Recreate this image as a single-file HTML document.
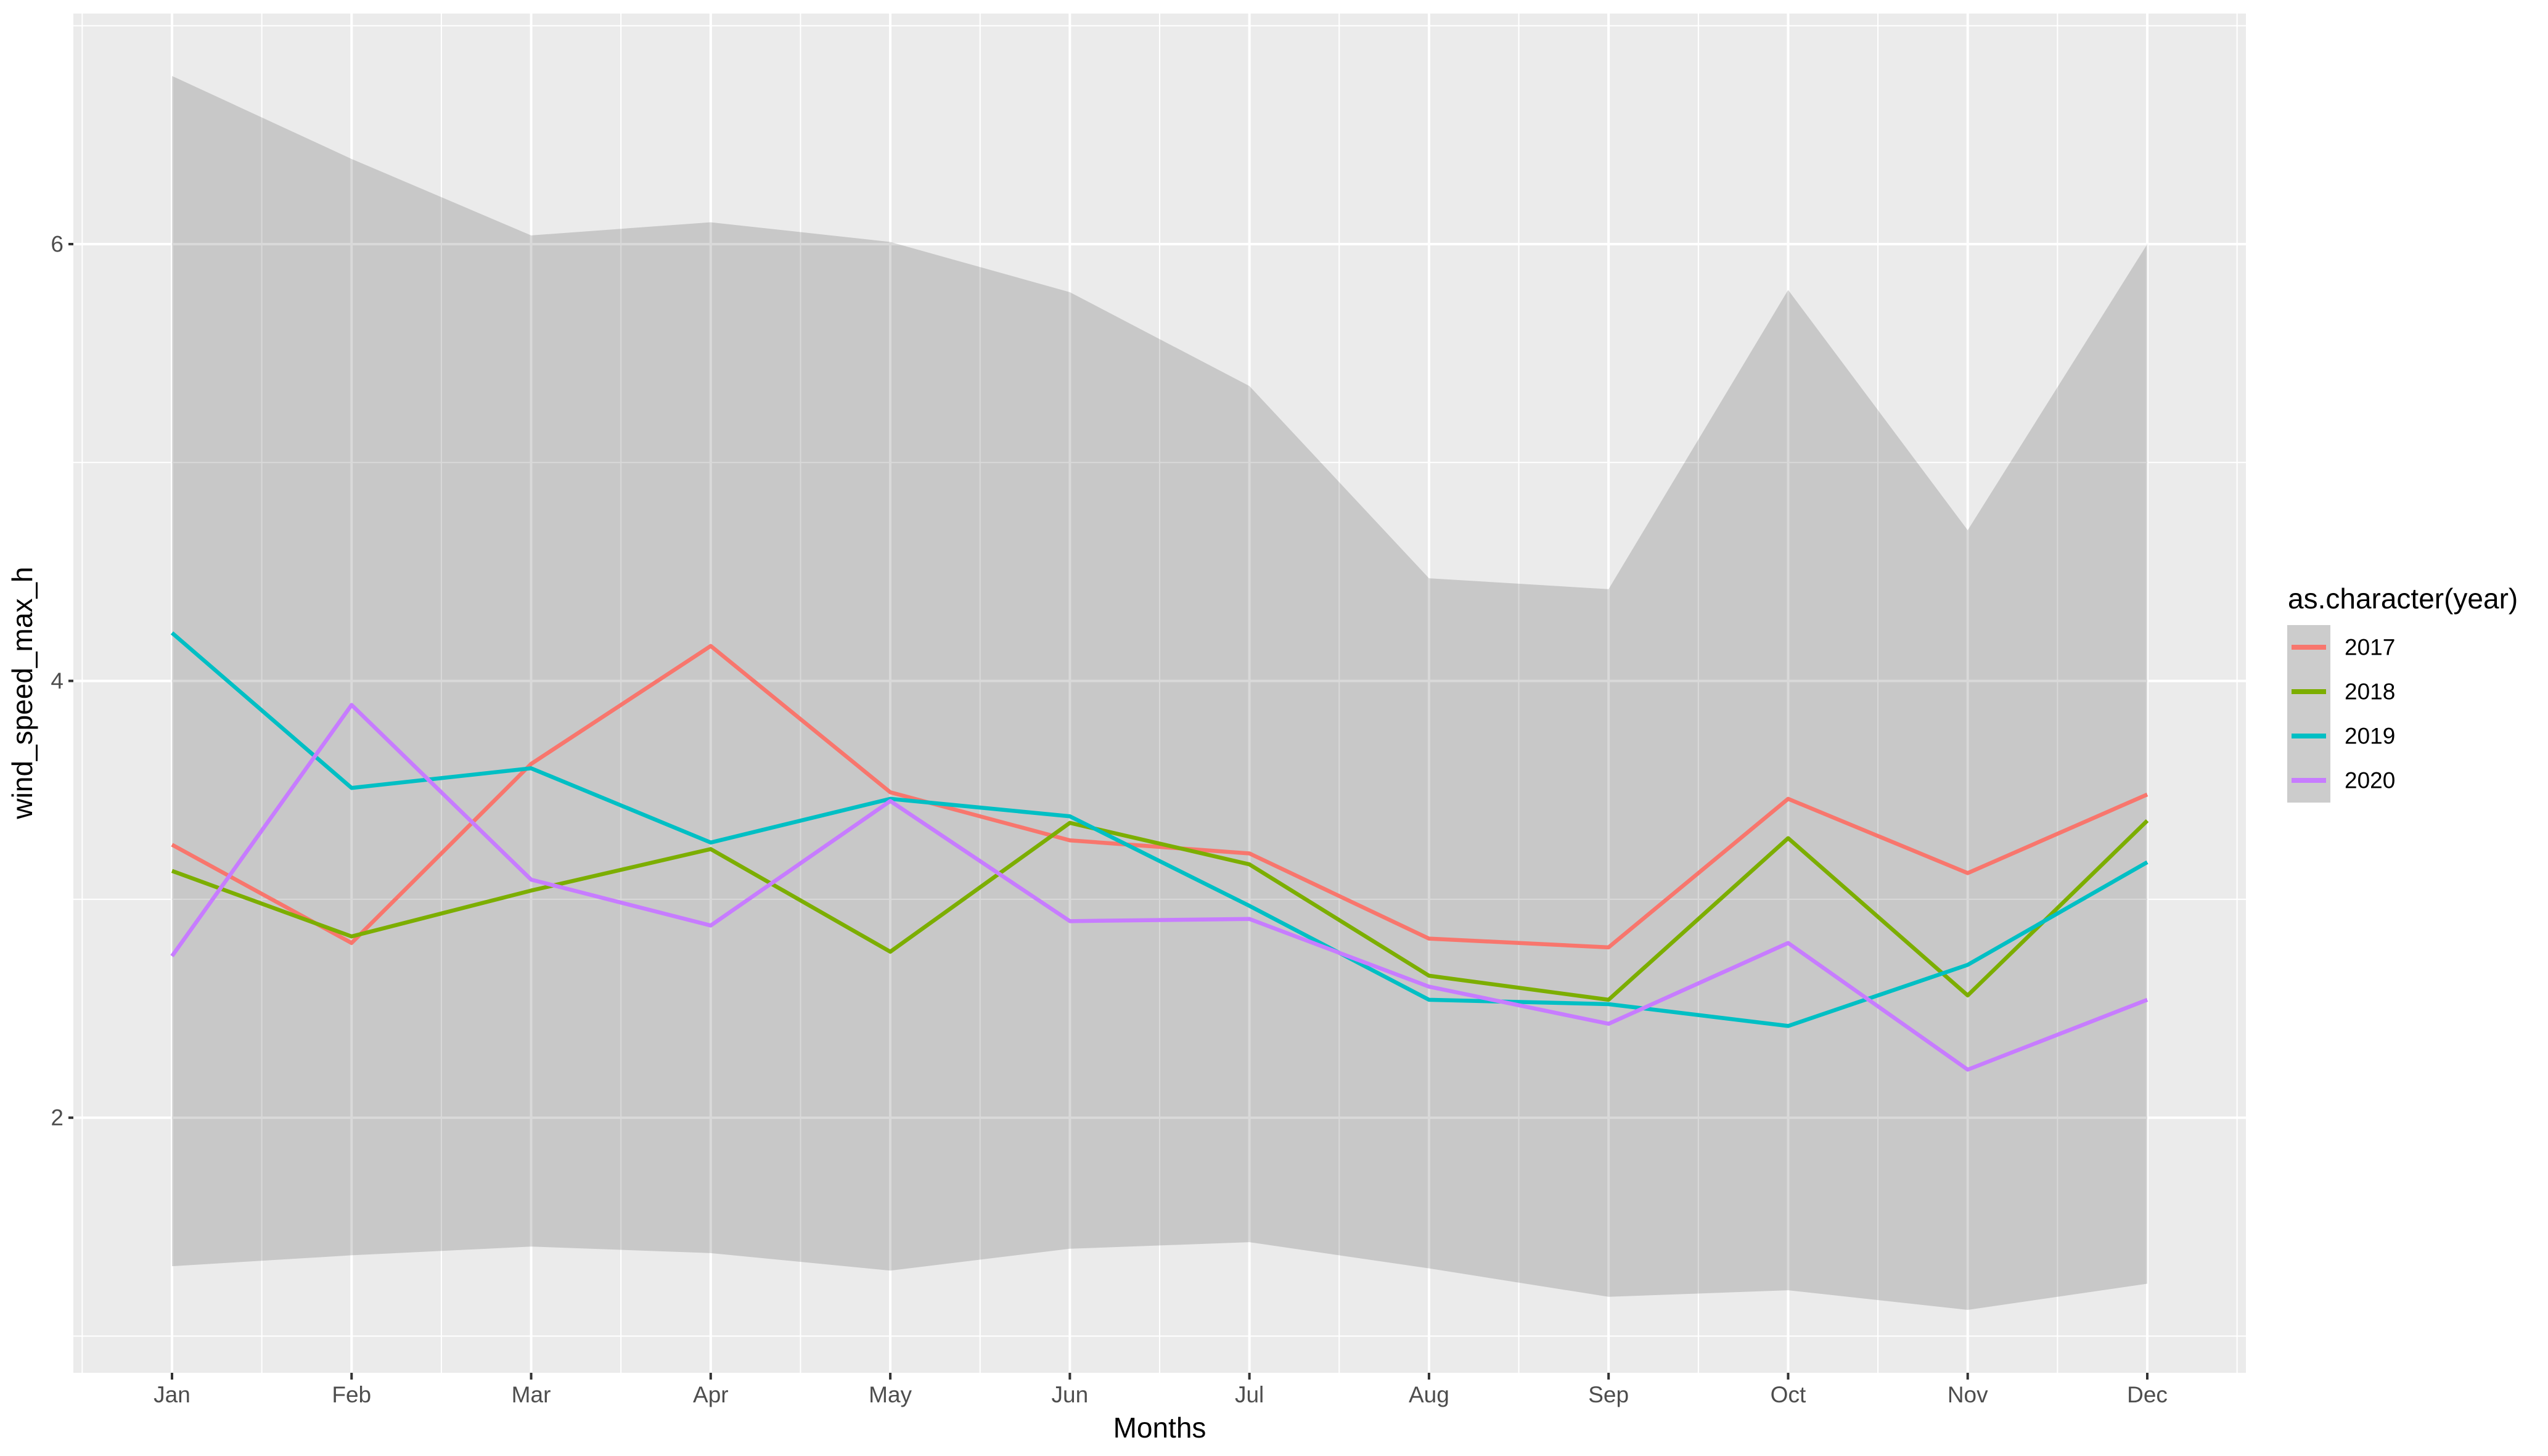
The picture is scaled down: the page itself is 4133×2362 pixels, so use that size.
<!DOCTYPE html>
<html><head><meta charset="utf-8"><style>
html,body{margin:0;padding:0;background:#fff;}
svg{display:block;font-family:"Liberation Sans",Arial,sans-serif;}
</style></head>
<body>
<svg id="chart" width="4133" height="2362" viewBox="0 0 4133 2362" xmlns="http://www.w3.org/2000/svg">
<rect x="0" y="0" width="4133" height="2362" fill="#fff"/>
<rect x="119" y="22" width="3524" height="2205" fill="#EBEBEB"/>
<g id="grid"></g>
<g id="ribbon"></g>
<g id="lines"></g>
<g id="axes"></g>
<text x="40" y="1124" transform="rotate(-90 40 1124)" text-anchor="middle" dominant-baseline="middle" font-size="46" fill="#000">wind_speed_max_h</text>
<text x="1881" y="2332" text-anchor="middle" font-size="46" fill="#000">Months</text>
<g id="legend">
<text x="3711" y="987" font-size="46" fill="#000">as.character(year)</text>
<rect x="3710" y="1014" width="70" height="288" fill="#CCCCCC"/>
</g>
</svg>
<script>
const months = ["Jan","Feb","Mar","Apr","May","Jun","Jul","Aug","Sep","Oct","Nov","Dec"];
const years = ["2017","2018","2019","2020"];
const colors = ["#F8766D","#7CAE00","#00BFC4","#C77CFF"];
const ribbonMax = [6.77,6.39,6.04,6.10,6.01,5.78,5.35,4.47,4.42,5.79,4.69,6.00];
const ribbonMin = [1.32,1.37,1.41,1.38,1.30,1.40,1.43,1.31,1.18,1.21,1.12,1.24];
const s2017 = [3.25,2.80,3.62,4.16,3.49,3.27,3.21,2.82,2.78,3.46,3.12,3.48];
const s2018 = [3.13,2.83,3.04,3.23,2.76,3.35,3.16,2.65,2.54,3.28,2.56,3.36];
const s2019 = [4.22,3.51,3.60,3.26,3.46,3.38,2.97,2.54,2.52,2.42,2.70,3.17];
const s2020 = [2.74,3.89,3.09,2.88,3.45,2.90,2.91,2.60,2.43,2.80,2.22,2.54];
const yTicks = [2,4,6];
const yTickLabels = ["2","4","6"];

const NS="http://www.w3.org/2000/svg";
const PL=119, PR=3643, PT=22, PB=2227;
function xs(i){ return 279 + i*(3483-279)/11; }
function ys(v){ return 396 + (6-v)*354.3; }
function mk(tag, attrs, parent){
  const e=document.createElementNS(NS,tag);
  for(const k in attrs) e.setAttribute(k,attrs[k]);
  parent.appendChild(e); return e;
}
const grid=document.getElementById('grid');
for(let v=1; v<=7; v+=2){
  const y=ys(v); if(y<PT||y>PB) continue;
  const l=mk('line',{x1:PL,x2:PR,y1:y,y2:y,stroke:'#fff','stroke-width':2},grid);
  
  
}
for(let i=-0.5;i<=11.5;i+=1){
  const x=xs(i); if(x<PL||x>PR) continue;
  const l=mk('line',{x1:x,x2:x,y1:PT,y2:PB,stroke:'#fff','stroke-width':2},grid);
  
  
}
yTicks.forEach(v=>{
  const l=mk('line',{x1:PL,x2:PR,y1:ys(v),y2:ys(v),stroke:'#fff','stroke-width':4},grid);
  
  
});
months.forEach((m,i)=>{
  const l=mk('line',{x1:xs(i),x2:xs(i),y1:PT,y2:PB,stroke:'#fff','stroke-width':4},grid);
  
  
});
const rib=document.getElementById('ribbon');
let d='';
ribbonMax.forEach((v,i)=>{ d+=(i?'L':'M')+xs(i)+','+ys(v); });
for(let i=ribbonMin.length-1;i>=0;i--){ d+='L'+xs(i)+','+ys(ribbonMin[i]); }
d+='Z';
const rp=mk('path',{d:d,fill:'#000','fill-opacity':0.15},rib);


const lines=document.getElementById('lines');
[s2017,s2018,s2019,s2020].forEach((s,k)=>{
  const pts=s.map((v,i)=>xs(i)+','+ys(v)).join(' ');
  const p=mk('polyline',{points:pts,fill:'none',stroke:colors[k],'stroke-width':6.5,'stroke-linejoin':'round'},lines);
  
  
});
const ax=document.getElementById('axes');
yTicks.forEach((v,i)=>{
  const t=mk('line',{x1:PL-8,x2:PL,y1:ys(v),y2:ys(v),stroke:'#333','stroke-width':4},ax);
  
  
  const tx=mk('text',{x:PL-16,y:ys(v),'text-anchor':'end','dominant-baseline':'central','font-size':37,fill:'#4D4D4D'},ax);
  tx.textContent=yTickLabels[i];
  
  
});
months.forEach((m,i)=>{
  const t=mk('line',{x1:xs(i),x2:xs(i),y1:PB,y2:PB+11,stroke:'#333','stroke-width':4},ax);
  
  
  const tx=mk('text',{x:xs(i),y:PB+48,'text-anchor':'middle','font-size':37,fill:'#4D4D4D'},ax);
  tx.textContent=m;
  
  
});
const lg=document.getElementById('legend');
years.forEach((y,k)=>{
  const cy=1050+k*72;
  const l=mk('line',{x1:3717,x2:3773,y1:cy,y2:cy,stroke:colors[k],'stroke-width':8},lg);
  
  
  const t=mk('text',{x:3803,y:cy,'dominant-baseline':'central','font-size':37,fill:'#000'},lg);
  t.textContent=y;
  
  
});
</script>
</body></html>
